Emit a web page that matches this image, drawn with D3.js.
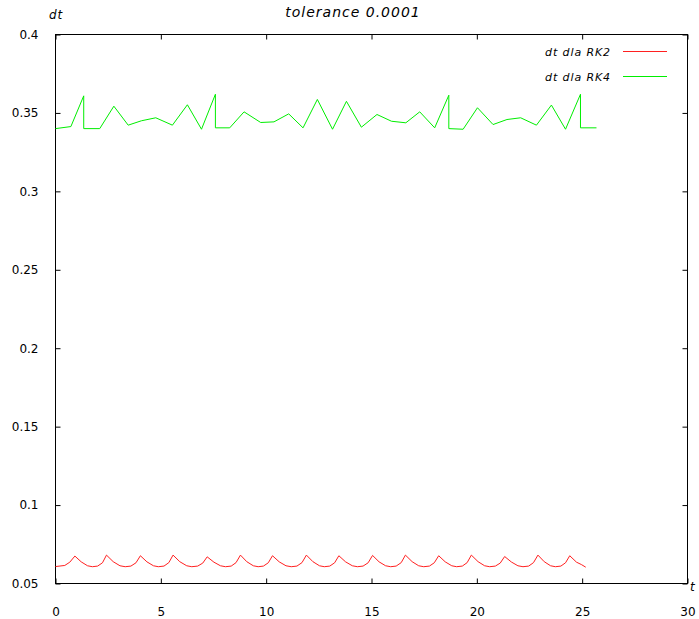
<!DOCTYPE html>
<html><head><meta charset="utf-8">
<script src="https://cdn.jsdelivr.net/npm/d3@7"></script>
<style>body{margin:0;background:#fff}svg{display:block}</style>
</head><body>
<svg id="chart" width="699" height="619"></svg>
<script>
const chartTitle = "tolerance 0.0001";
const xLabel = "t";
const yLabel = "dt";
const seriesNames = ["dt dla RK2", "dt dla RK4"];
const seriesColors = ["#ff2020", "#00ee00"];
const xTicks = [0, 5, 10, 15, 20, 25, 30];
const xTickLabels = ["0", "5", "10", "15", "20", "25", "30"];
const yTicks = [0.05, 0.1, 0.15, 0.2, 0.25, 0.3, 0.35, 0.4];
const yTickLabels = ["0.05", "0.1", "0.15", "0.2", "0.25", "0.3", "0.35", "0.4"];

const rk4T = [0, 0.73, 1.34, 1.34, 2.10, 2.77, 3.45, 4.08, 4.76, 5.55, 6.26, 6.93, 7.59, 7.59, 8.27, 8.95, 9.74, 10.37, 11.07, 11.75, 12.43, 13.15, 13.81, 14.52, 15.26, 15.95, 16.63, 17.29, 18.00, 18.67, 18.67, 19.35, 20.03, 20.77, 21.43, 22.08, 22.83, 23.54, 24.21, 24.92, 24.92, 25.68];
const rk4Dt = [0.3400, 0.3413, 0.3609, 0.3400, 0.3400, 0.3543, 0.3422, 0.3450, 0.3469, 0.3422, 0.3552, 0.3396, 0.3619, 0.3405, 0.3405, 0.3507, 0.3439, 0.3443, 0.3494, 0.3405, 0.3586, 0.3396, 0.3574, 0.3409, 0.3490, 0.3447, 0.3437, 0.3507, 0.3405, 0.3613, 0.3400, 0.3396, 0.3533, 0.3426, 0.3458, 0.3469, 0.3422, 0.3550, 0.3396, 0.3619, 0.3405, 0.3405];

const rk2T = [0, 0.44, 0.68, 0.92,
  1.22, 1.52, 1.75, 2.00, 2.23, 2.42,
  2.74, 3.06, 3.31, 3.58, 3.82, 4.03,
  4.34, 4.65, 4.88, 5.15, 5.38, 5.58,
  5.90, 6.23, 6.47, 6.75, 6.99, 7.20,
  7.52, 7.83, 8.07, 8.34, 8.57, 8.78,
  9.08, 9.39, 9.62, 9.87, 10.10, 10.30,
  10.62, 10.94, 11.19, 11.46, 11.70, 11.91,
  12.22, 12.53, 12.76, 13.02, 13.25, 13.45,
  13.77, 14.09, 14.33, 14.60, 14.84, 15.05,
  15.36, 15.67, 15.91, 16.17, 16.41, 16.61,
  16.93, 17.24, 17.48, 17.75, 17.98, 18.19,
  18.50, 18.81, 19.04, 19.31, 19.54, 19.74,
  20.06, 20.37, 20.61, 20.88, 21.11, 21.32,
  21.64, 21.95, 22.19, 22.46, 22.69, 22.90,
  23.20, 23.50, 23.73, 23.99, 24.21, 24.41,
  24.73, 24.96, 25.17];
const rk2Dt = [0.0608, 0.0615, 0.0636, 0.0675,
  0.0638, 0.0613, 0.0607, 0.0611, 0.0632, 0.0681,
  0.0639, 0.0613, 0.0607, 0.0611, 0.0632, 0.0677,
  0.0638, 0.0613, 0.0607, 0.0611, 0.0633, 0.0681,
  0.0639, 0.0613, 0.0607, 0.0611, 0.0630, 0.0670,
  0.0636, 0.0613, 0.0607, 0.0611, 0.0633, 0.0681,
  0.0639, 0.0613, 0.0607, 0.0611, 0.0632, 0.0677,
  0.0638, 0.0613, 0.0607, 0.0611, 0.0633, 0.0681,
  0.0639, 0.0613, 0.0607, 0.0611, 0.0632, 0.0677,
  0.0638, 0.0613, 0.0607, 0.0611, 0.0632, 0.0679,
  0.0638, 0.0613, 0.0607, 0.0611, 0.0633, 0.0681,
  0.0639, 0.0613, 0.0607, 0.0611, 0.0632, 0.0677,
  0.0638, 0.0613, 0.0607, 0.0611, 0.0633, 0.0681,
  0.0639, 0.0613, 0.0607, 0.0611, 0.0630, 0.0672,
  0.0637, 0.0613, 0.0607, 0.0611, 0.0633, 0.0681,
  0.0639, 0.0613, 0.0607, 0.0611, 0.0632, 0.0677,
  0.0636, 0.0621, 0.0604];

const svg = d3.select("#chart");
const font = "'DejaVu Sans', Verdana, sans-serif";
const L = 55.5, R = 687.5, T = 34.5, B = 583.5;
const x = d3.scaleLinear().domain([0, 30]).range([L, R]);
const y = d3.scaleLinear().domain([0.05, 0.4]).range([B, T]);

svg.append("rect").attr("width", 699).attr("height", 619).attr("fill", "#fff");

// axes with inward ticks on all four sides
const axisStyle = g => {
  g.select(".domain").remove();
  g.selectAll("line").attr("stroke", "#000");
  g.selectAll("text").attr("font-family", font).attr("font-size", 12).attr("fill", "#000");
};
svg.append("g").attr("transform", `translate(0,${B})`)
  .call(d3.axisBottom(x).tickValues(xTicks).tickFormat((d, i) => xTickLabels[i]).tickSizeInner(-5).tickPadding(24))
  .call(axisStyle);
svg.append("g").attr("transform", `translate(0,${T})`)
  .call(d3.axisTop(x).tickValues(xTicks).tickFormat("").tickSizeInner(-5))
  .call(axisStyle);
svg.append("g").attr("transform", `translate(${L},0)`)
  .call(d3.axisLeft(y).tickValues(yTicks).tickFormat((d, i) => yTickLabels[i]).tickSizeInner(-5).tickPadding(17))
  .call(axisStyle);
svg.append("g").attr("transform", `translate(${R},0)`)
  .call(d3.axisRight(y).tickValues(yTicks).tickFormat("").tickSizeInner(-5))
  .call(axisStyle);

svg.append("rect").attr("x", L).attr("y", T).attr("width", R - L).attr("height", B - T)
  .attr("fill", "none").attr("stroke", "#000").attr("stroke-width", 1);

const line = d3.line().x(d => x(d[0])).y(d => y(d[1]));
const rk2 = rk2T.map((t, i) => [t, rk2Dt[i]]);
const rk4 = rk4T.map((t, i) => [t, rk4Dt[i]]);
svg.append("path").datum(rk2).attr("d", line).attr("fill", "none").attr("stroke", seriesColors[0]).attr("stroke-width", 1);
svg.append("path").datum(rk4).attr("d", line).attr("fill", "none").attr("stroke", seriesColors[1]).attr("stroke-width", 1);

// legend
[0, 1].forEach(i => {
  const ly = 51.5 + i * 25;
  svg.append("text").attr("x", 611).attr("y", ly + 4).attr("text-anchor", "end")
    .attr("font-family", font).attr("font-style", "italic").attr("font-size", 11)
    .attr("letter-spacing", "0.9px").attr("fill", "#000").text(seriesNames[i]);
  svg.append("line").attr("x1", 623).attr("x2", 667).attr("y1", ly).attr("y2", ly)
    .attr("stroke", seriesColors[i]).attr("stroke-width", 1);
});

// titles
svg.append("text").attr("x", 353).attr("y", 17).attr("text-anchor", "middle")
  .attr("font-family", font).attr("font-style", "italic").attr("font-size", 14)
  .attr("letter-spacing", "1px").attr("fill", "#000").text(chartTitle);
svg.append("text").attr("x", 49).attr("y", 19)
  .attr("font-family", font).attr("font-style", "italic").attr("font-size", 12)
  .attr("letter-spacing", "1px").attr("fill", "#000").text(yLabel);
svg.append("text").attr("x", 690).attr("y", 591)
  .attr("font-family", font).attr("font-style", "italic").attr("font-size", 12)
  .attr("fill", "#000").text(xLabel);
</script>
</body></html>
